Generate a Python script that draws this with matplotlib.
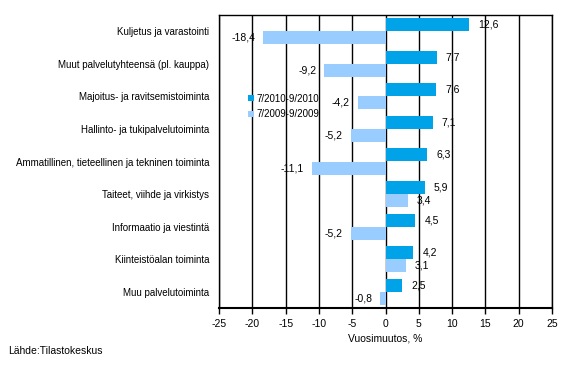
import numpy as np
import matplotlib.pyplot as plt

categories = [
    "Kuljetus ja varastointi",
    "Muut palvelutyhteensä (pl. kauppa)",
    "Majoitus- ja ravitsemistoiminta",
    "Hallinto- ja tukipalvelutoiminta",
    "Ammatillinen, tieteellinen ja tekninen toiminta",
    "Taiteet, viihde ja virkistys",
    "Informaatio ja viestintä",
    "Kiinteistöalan toiminta",
    "Muu palvelutoiminta",
]
values_2010 = [12.6, 7.7, 7.6, 7.1, 6.3, 5.9, 4.5, 4.2, 2.5]
values_2009 = [-18.4, -9.2, -4.2, -5.2, -11.1, 3.4, -5.2, 3.1, -0.8]
series_labels = ["7/2010-9/2010", "7/2009-9/2009"]
xticks = [-25, -20, -15, -10, -5, 0, 5, 10, 15, 20, 25]

dark = "#00a3e8"
light = "#99ccff"

plt.rcParams['font.family'] = ['Liberation Sans', 'DejaVu Sans']
plt.rcParams['font.size'] = 7

fig = plt.figure(figsize=(5.68, 3.73), dpi=100)
ax = fig.add_axes([219 / 568, 1 - 308 / 373, 333 / 568, 293 / 373])

y = np.arange(len(categories))
h = 0.4
b1 = ax.barh(y - h / 2, values_2010, height=h, color=dark, label=series_labels[0], zorder=3)
b2 = ax.barh(y + h / 2, values_2009, height=h, color=light, label=series_labels[1], zorder=3)

def fmt(v):
    return f"{v:.1f}".replace(".", ",")

# value labels just past the end of each bar
for bars, vals in [(b1, values_2010), (b2, values_2009)]:
    for bar, v in zip(bars, vals):
        cy = bar.get_y() + bar.get_height() / 2
        off = 9 if v >= 0 else -8
        ax.annotate(fmt(v), (v, cy), xytext=(off, 0), textcoords="offset pixels",
                    ha="left" if v >= 0 else "right", va="center", fontsize=7.5, zorder=4)

ax.set_xlim(-25, 25)
ax.set_ylim(len(categories) - 0.5, -0.5)
ax.set_xticks(xticks)
ax.set_xticklabels([str(t) for t in xticks], fontsize=7.5)
ax.set_yticks(y)
ax.set_yticklabels(categories, fontsize=7)
ax.tick_params(axis="y", length=0, pad=7)
ax.tick_params(axis="x", direction="out", length=4, width=1, pad=4)
ax.grid(axis="x", color="black", linewidth=1, zorder=0)
for s in ax.spines.values():
    s.set_linewidth(1)
    s.set_color("black")
ax.spines["bottom"].set_linewidth(1.5)

ax.set_xlabel("Vuosimuutos, %", fontsize=7.5, labelpad=3)

ax.legend(loc="upper left", bbox_to_anchor=(0.075, 0.745), frameon=False, fontsize=7,
          handlelength=0.6, handleheight=0.6, handletextpad=0.3, labelspacing=0.6,
          borderaxespad=0)

fig.text(8 / 568, 1 - 351 / 373, "Lähde:Tilastokeskus", fontsize=7.5, va="center")

fig.savefig("out.png", dpi=100)
